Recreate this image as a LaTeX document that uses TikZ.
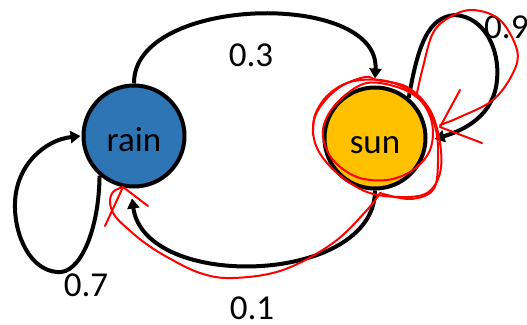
\documentclass[tikz,border=0pt]{standalone}
\usepackage{fontspec}
\setmainfont{Carlito}
\usetikzlibrary{arrows.meta}
\definecolor{rainblue}{RGB}{46,117,182}
\definecolor{sungold}{RGB}{255,192,0}
\definecolor{inkred}{RGB}{255,0,0}
\begin{document}
\begin{tikzpicture}[x=1pt,y=-1pt,
  state/.style={circle,draw=black,line width=4pt,minimum size=101pt,inner sep=0pt,
    text height=30pt,text depth=0pt,font=\fontsize{35}{42}\selectfont},
  edge/.style={line width=4pt,-{Triangle[length=10pt,width=12pt]}},
  lbl/.style={font=\fontsize{35}{42}\selectfont,inner sep=0pt},
  ink/.style={draw=inkred,line width=2pt,line cap=round,line join=round}]
\useasboundingbox (0,0) rectangle (527,324);
\clip (0,0) rectangle (527,324);

\node[state,fill=rainblue] (rain) at (134,136) {rain};
\node[state,fill=sungold] (sun) at (375,138) {sun};

% connectors
\draw[edge] (rain.north) .. controls (133,-5) and (380,-10) .. ([yshift=7pt]sun.north);
\draw[edge] (sun.south) .. controls (375,285) and (145,292) .. ([xshift=-2pt,yshift=-10pt]rain.south);
\draw[edge] (rain.229) .. controls (99,230) and (80,275) .. (57,272)
  .. controls (30,270) and (14,235) .. (15,203)
  .. controls (16,165) and (45,140) .. ([xshift=-1pt]rain.west);
\draw[edge] (sun.50) .. controls (418,45) and (428,17) .. (455,15)
  .. controls (485,17) and (500,50) .. (497,80)
  .. controls (494,115) and (465,130) .. ([xshift=7pt,yshift=-1pt]sun.east);

% labels
\node[lbl] (l03) at (251,55) {0.3};
\node[lbl,anchor=west] (l09) at (484,27) {0.9};
\node[lbl] (l07) at (86,285) {0.7};
\node[lbl] (l01) at (252,308.5) {0.1};

% red annotations
\draw[ink] (105,226) -- (123,187) -- (148,206);
\draw[ink] plot[smooth,tension=0.6] coordinates {(123,187) (113,192) (110,203) (115,216) (128,229) (145,243) (167,257) (200,273) (233,278) (283,270) (333,243) (367,210) (380,193)};
\draw[ink] plot[smooth cycle,tension=0.6] coordinates {(365,77) (340,87) (320,107) (313,127) (318,150) (337,173) (367,192) (400,197) (427,193) (440,173) (440,143) (430,110) (407,87) (377,80)};
\draw[ink] plot[smooth cycle,tension=0.6] coordinates {(343,97) (327,117) (323,137) (333,160) (357,177) (387,180) (413,170) (430,150) (432,123) (420,100) (397,87) (367,83)};
\draw[ink] plot[smooth,tension=0.6] coordinates {(380,193) (410,199) (433,190) (438,163) (436,130) (425,105) (405,88) (380,80) (350,82) (328,95) (315,115) (313,135)};
\draw[ink] plot[smooth,tension=0.6] coordinates {(417,93) (423,67) (433,33) (450,17) (473,10) (500,20) (517,50) (513,73) (493,100) (460,117) (440,125)};
\draw[ink] (460,90) -- (440,127) -- (482,143);
\end{tikzpicture}
\end{document}
